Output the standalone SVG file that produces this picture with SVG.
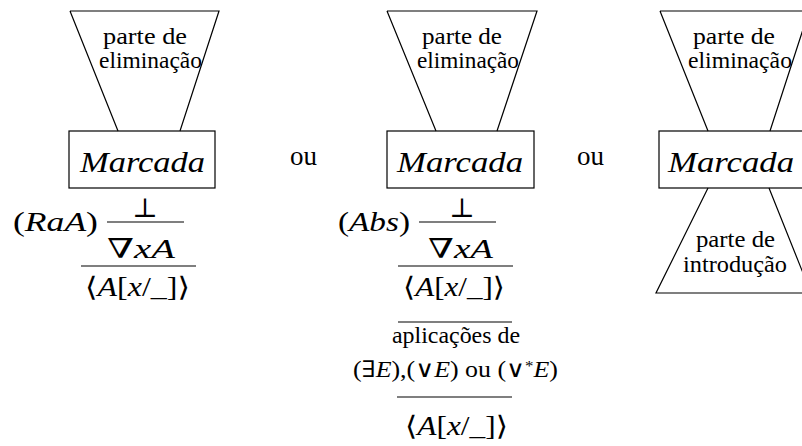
<svg xmlns="http://www.w3.org/2000/svg" width="802" height="446" viewBox="0 0 802 446">
<style>
.s{fill:none;stroke:#000;stroke-width:1.2}
.t{font-family:"Liberation Serif","DejaVu Serif",serif;fill:#000}
.sm{font-size:23px}
.mk{font-size:30px;font-style:italic}
.m{font-size:27px}
.i{font-style:italic}
.ou{font-size:27px}
.sy{font-family:"DejaVu Serif","DejaVu Sans",serif;font-weight:normal}
</style>
<rect width="802" height="446" fill="#fff"/>
<g id="connectors">
<line class="s" x1="107" y1="222" x2="184" y2="222"/>
<line class="s" x1="81" y1="266" x2="196" y2="266"/>
<line class="s" x1="419" y1="222" x2="496" y2="222"/>
<line class="s" x1="398" y1="266" x2="513" y2="266"/>
<line class="s" x1="398" y1="322" x2="512" y2="322"/>
<line class="s" x1="397" y1="397" x2="512" y2="397"/>
</g>
<g id="panel1">
<path class="s" d="M70,11 L219,11 L180,131 M70,11 L118,131"/>
<text class="t sm" x="103" y="44" textLength="84" lengthAdjust="spacingAndGlyphs">parte de</text>
<text class="t sm" x="99" y="68" textLength="103" lengthAdjust="spacingAndGlyphs">eliminação</text>
<rect class="s" x="69" y="131" width="146" height="57"/>
<text class="t mk" x="80" y="172" textLength="125" lengthAdjust="spacingAndGlyphs">Marcada</text>
<text class="t m sy" x="145" y="217" text-anchor="middle" font-size="24">⊥</text>
<text class="t m" x="13" y="231" textLength="85" lengthAdjust="spacingAndGlyphs">(<tspan class="i">RaA</tspan>)</text>
<text class="t m" x="107" y="258" textLength="68" lengthAdjust="spacingAndGlyphs">∇<tspan class="i">xA</tspan></text>
<text class="t m" x="85" y="296" textLength="105" lengthAdjust="spacingAndGlyphs"><tspan class="sy">⟨</tspan><tspan class="i">A</tspan>[<tspan class="i">x</tspan>/_]<tspan class="sy">⟩</tspan></text>
</g>
<g id="ou1"><text class="t ou" x="290" y="165">ou</text></g>
<g id="panel2">
<path class="s" d="M387,11 L537,11 L497,131 M387,11 L436,131"/>
<text class="t sm" x="422" y="44" textLength="80" lengthAdjust="spacingAndGlyphs">parte de</text>
<text class="t sm" x="417" y="68" textLength="102" lengthAdjust="spacingAndGlyphs">eliminação</text>
<rect class="s" x="387" y="131" width="147" height="57"/>
<text class="t mk" x="397" y="172" textLength="126" lengthAdjust="spacingAndGlyphs">Marcada</text>
<text class="t m sy" x="462" y="217" text-anchor="middle" font-size="24">⊥</text>
<text class="t m" x="338" y="231" textLength="72" lengthAdjust="spacingAndGlyphs">(<tspan class="i">Abs</tspan>)</text>
<text class="t m" x="428" y="258" textLength="65" lengthAdjust="spacingAndGlyphs">∇<tspan class="i">xA</tspan></text>
<text class="t m" x="403" y="296" textLength="102" lengthAdjust="spacingAndGlyphs"><tspan class="sy">⟨</tspan><tspan class="i">A</tspan>[<tspan class="i">x</tspan>/_]<tspan class="sy">⟩</tspan></text>
<text class="t sm" x="392" y="343" textLength="128" lengthAdjust="spacingAndGlyphs">aplicações de</text>
<text class="t sm" x="353" y="377" textLength="205" lengthAdjust="spacingAndGlyphs">(∃<tspan class="i">E</tspan>),(∨<tspan class="i">E</tspan>) ou (∨<tspan font-size="15" dy="-6">*</tspan><tspan class="i" dy="6">E</tspan>)</text>
<text class="t m" x="405" y="435" textLength="103" lengthAdjust="spacingAndGlyphs"><tspan class="sy">⟨</tspan><tspan class="i">A</tspan>[<tspan class="i">x</tspan>/_]<tspan class="sy">⟩</tspan></text>
</g>
<g id="ou2"><text class="t ou" x="577" y="165">ou</text></g>
<g id="panel3">
<path class="s" d="M660,11 L809,11 L770,131 M660,11 L708,131"/>
<text class="t sm" x="693" y="44" textLength="82" lengthAdjust="spacingAndGlyphs">parte de</text>
<text class="t sm" x="688" y="68" textLength="104" lengthAdjust="spacingAndGlyphs">eliminação</text>
<rect class="s" x="659" y="131" width="147" height="57"/>
<text class="t mk" x="668" y="172" textLength="126" lengthAdjust="spacingAndGlyphs">Marcada</text>
<path class="s" d="M708,188 L656,293 L811,293 M769,188 L811,293"/>
<text class="t sm" x="696" y="247" textLength="79" lengthAdjust="spacingAndGlyphs">parte de</text>
<text class="t sm" x="683" y="272" textLength="104" lengthAdjust="spacingAndGlyphs">introdução</text>
</g>
</svg>
